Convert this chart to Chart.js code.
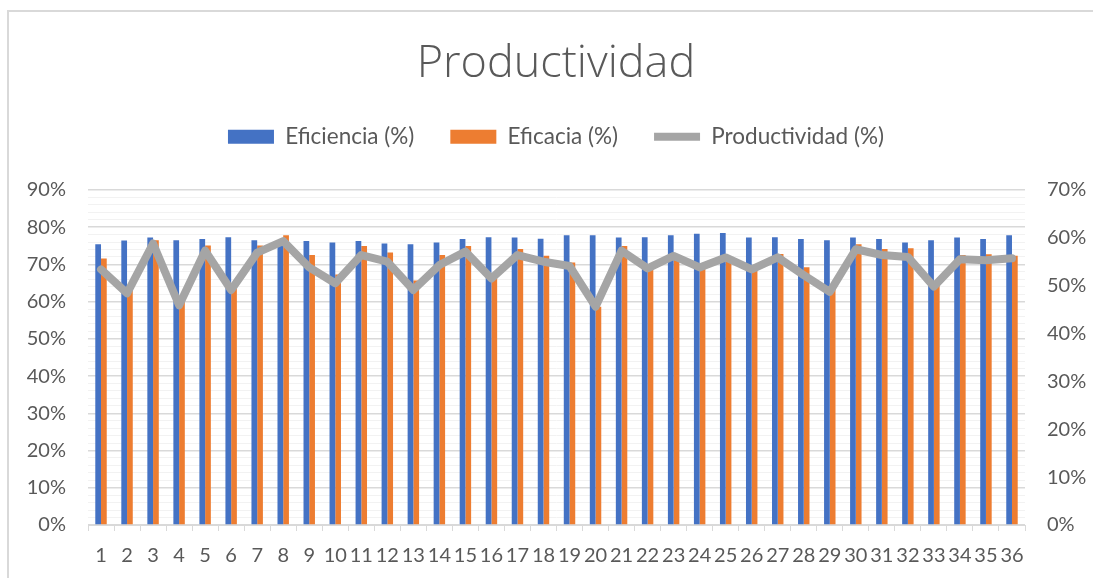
<!DOCTYPE html>
<html>
<head>
<meta charset="utf-8">
<script src="https://cdn.jsdelivr.net/npm/chart.js@4.4.1/dist/chart.umd.min.js"></script>
<style>
  html, body { margin: 0; padding: 0; background: #fff; overflow: hidden; }
  #wrap { position: relative; width: 1093px; height: 578px; }
  #frame { position: absolute; left: 7px; top: 10px; width: 1200px; height: 700px;
           border-top: 2px solid #D9D9D9; border-left: 2px solid #D9D9D9; }
  canvas { position: absolute; left: 0; top: 0; }
</style>
</head>
<body>
<div id="wrap">
  <div id="frame"></div>
  <canvas id="prodChart" width="1093" height="578"></canvas>
</div>
<script>
const categories = ["1","2","3","4","5","6","7","8","9","10","11","12","13","14","15","16","17","18",
  "19","20","21","22","23","24","25","26","27","28","29","30","31","32","33","34","35","36"];

const eficiencia = [75.4, 76.4, 77.2, 76.5, 76.8, 77.3, 76.5, 76.2, 76.3, 75.9, 76.3, 75.6,
  75.4, 75.9, 76.8, 77.3, 77.2, 76.9, 77.8, 77.8, 77.2, 77.3, 77.8, 78.2,
  78.4, 77.2, 77.3, 76.8, 76.5, 77.2, 76.8, 75.9, 76.5, 77.2, 76.8, 77.8];

const eficacia = [71.6, 63.4, 76.5, 60.0, 75.1, 63.5, 75.1, 77.8, 72.5, 67.3, 74.9, 73.2,
  65.7, 72.5, 74.9, 66.6, 74.1, 72.3, 70.5, 58.6, 74.9, 69.6, 72.1, 69.8,
  71.3, 69.2, 72.8, 69.2, 63.7, 75.4, 74.1, 74.3, 65.0, 72.5, 72.7, 72.3];

const productividad = [53.4, 48.4, 58.8, 45.9, 57.3, 49.1, 56.9, 59.3, 53.8, 50.5, 56.4, 55.0,
  49.1, 54.3, 57.1, 51.5, 56.4, 55.0, 54.1, 45.6, 57.3, 53.6, 56.2, 53.8,
  55.9, 53.4, 55.9, 52.2, 48.7, 57.6, 56.4, 56.0, 49.8, 55.5, 55.3, 55.7];

const leftTicks = [0, 10, 20, 30, 40, 50, 60, 70, 80, 90];
const rightTicks = [0, 10, 20, 30, 40, 50, 60, 70];

const textColor = "#595959";
const fontFamily = "Lato, 'Open Sans', sans-serif";

// extra room under the legend, before the plot area
const legendSpacer = {
  id: "legendSpacer",
  beforeInit(chart) {
    const fit = chart.legend.fit;
    chart.legend.fit = function () {
      fit.call(this);
      this.height += 32;
    };
  }
};

const ctx = document.getElementById("prodChart").getContext("2d");
new Chart(ctx, {
  type: "bar",
  data: {
    labels: categories,
    datasets: [
      {
        label: "Eficiencia (%)",
        data: eficiencia,
        backgroundColor: "#4472C4",
        borderWidth: 0,
        pointStyle: "rect",
        categoryPercentage: 0.44,
        barPercentage: 1,
        yAxisID: "y",
        order: 1
      },
      {
        label: "Eficacia (%)",
        data: eficacia,
        backgroundColor: "#ED7D31",
        borderWidth: 0,
        pointStyle: "rect",
        categoryPercentage: 0.44,
        barPercentage: 1,
        yAxisID: "y",
        order: 1
      },
      {
        type: "line",
        label: "Productividad (%)",
        data: productividad,
        borderColor: "#A5A5A5",
        backgroundColor: "#A5A5A5",
        borderWidth: 8,
        borderJoinStyle: "round",
        borderCapStyle: "round",
        pointRadius: 0,
        pointStyle: "line",
        tension: 0,
        fill: false,
        yAxisID: "y1",
        order: 0
      }
    ]
  },
  plugins: [legendSpacer],
  options: {
    responsive: false,
    animation: false,
    layout: { padding: { left: 19, right: 0, top: 0, bottom: 0 } },
    plugins: {
      tooltip: { enabled: false },
      title: {
        display: true,
        text: "Productividad",
        color: textColor,
        font: { family: "'Open Sans', Lato, sans-serif", size: 45, weight: "300", lineHeight: 1.12 },
        padding: { top: 39, bottom: 0 }
      },
      legend: {
        display: true,
        position: "top",
        labels: {
          color: textColor,
          font: { family: fontFamily, size: 22.5 },
          usePointStyle: true,
          pointStyleWidth: 46,
          boxHeight: 14,
          padding: 36,
          sort: (a, b) => a.datasetIndex - b.datasetIndex
        }
      }
    },
    scales: {
      x: {
        offset: true,
        grid: {
          offset: true,
          drawOnChartArea: false,
          drawTicks: true,
          tickLength: 6,
          color: "#D9D9D9"
        },
        border: { display: true, color: "#D9D9D9" },
        ticks: {
          color: textColor,
          font: { family: fontFamily, size: 20 },
          autoSkip: false,
          maxRotation: 0,
          padding: 13
        },
        afterFit(scale) { scale.height = 53; }
      },
      y: {
        position: "left",
        min: 0,
        max: 90,
        border: { display: false },
        grid: {
          drawTicks: false,
          color: (c) => (c.tick && c.tick.value % 10 === 0 ? "#D9D9D9" : "#F2F2F2"),
          lineWidth: (c) => (c.tick && c.tick.value % 10 === 0 ? 1.5 : 1)
        },
        ticks: {
          stepSize: 2,
          autoSkip: false,
          color: textColor,
          font: { family: fontFamily, size: 20 },
          padding: 22,
          callback: (v) => (leftTicks.includes(v) ? v + "%" : "")
        },
        afterFit(scale) { scale.width = 69; }
      },
      y1: {
        position: "right",
        min: 0,
        max: 70,
        border: { display: false },
        grid: { display: false, drawTicks: false },
        ticks: {
          stepSize: 10,
          color: textColor,
          font: { family: fontFamily, size: 20 },
          padding: 22,
          callback: (v) => (rightTicks.includes(v) ? v + "%" : "")
        },
        afterFit(scale) { scale.width = 68; }
      }
    }
  }
});
</script>
</body>
</html>
